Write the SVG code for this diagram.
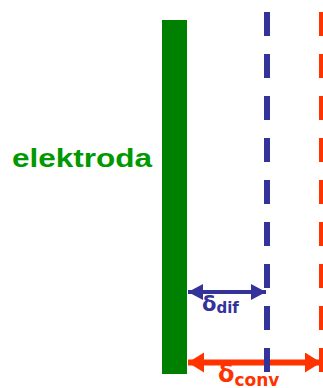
<svg xmlns="http://www.w3.org/2000/svg" width="323" height="388" viewBox="0 0 323 388">
<style>
.lbl{font-family:"DejaVu Sans","Liberation Sans",sans-serif;font-weight:bold}
.big{font-family:"Liberation Sans",Arial,sans-serif;font-weight:bold}
</style>
<defs>
<marker id="bh" markerUnits="userSpaceOnUse" markerWidth="16" markerHeight="18" refX="15" refY="8" orient="auto-start-reverse"><path d="M0,0 L15,8 L0,16 Z" fill="#333399"/></marker>
<marker id="rh" markerUnits="userSpaceOnUse" markerWidth="18" markerHeight="22" refX="16" refY="10" orient="auto-start-reverse"><path d="M0,0 L16,10 L0,20 Z" fill="#FF3300"/></marker>
</defs>
<rect width="323" height="388" fill="#fff"/>
<g id="elektroda">
<rect x="162" y="20" width="25" height="354" fill="#008000"/>
<text class="big" x="12" y="167" font-size="25" fill="#009900" textLength="140" lengthAdjust="spacingAndGlyphs">elektroda</text>
</g>
<g id="connectors">
<line x1="188" y1="362.5" x2="321" y2="362.5" stroke="#FF3300" stroke-width="6" marker-start="url(#rh)" marker-end="url(#rh)"/>
<line x1="188" y1="292" x2="266" y2="292" stroke="#333399" stroke-width="4" marker-start="url(#bh)" marker-end="url(#bh)"/>
</g>
<g id="dif-layer">
<line x1="267" y1="12" x2="267" y2="388" stroke="#333399" stroke-width="6" stroke-dasharray="24 18"/>
</g>
<g id="conv-layer">
<line x1="321" y1="12" x2="321" y2="388" stroke="#FF3300" stroke-width="4" stroke-dasharray="24 18"/>
</g>
<g id="label-dif">
<text class="lbl" x="202" y="311" font-size="21" fill="#333399">δ<tspan font-size="15" dy="2">dif</tspan></text>
</g>
<g id="label-conv">
<text class="lbl" x="218" y="382" font-size="24" fill="#FF3300">δ<tspan font-size="17" dy="4">conv</tspan></text>
</g>
</svg>
